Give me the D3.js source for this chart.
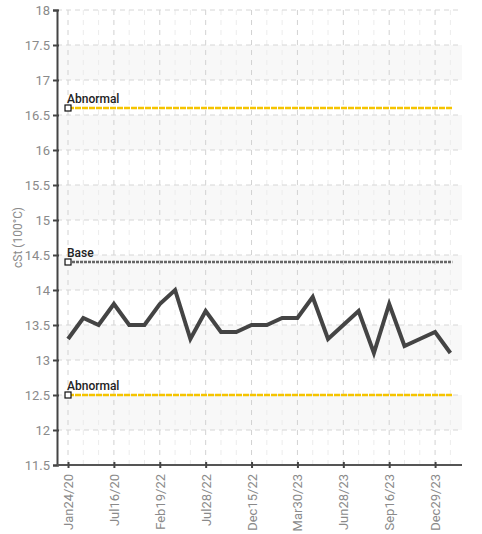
<!DOCTYPE html>
<html>
<head>
<meta charset="utf-8">
<script src="https://cdn.jsdelivr.net/npm/d3@7/dist/d3.min.js"></script>
<style>
  html, body { margin: 0; padding: 0; background: #fff; }
  svg { display: block; }
  text { font-family: "Roboto", "DejaVu Sans Condensed", sans-serif; }
</style>
</head>
<body>
<svg id="chart" width="482" height="534"></svg>
<script>
// Viscosity readings, one per sample (x = sample order)
const viscosity = [13.3, 13.6, 13.5, 13.8, 13.5, 13.5, 13.8, 14.0, 13.3, 13.7,
                   13.4, 13.4, 13.5, 13.5, 13.6, 13.6, 13.9, 13.3, 13.5, 13.7,
                   13.1, 13.8, 13.2, 13.3, 13.4, 13.1];
// Sample date labels shown on the axis (every third sample)
const tickLabels = ["Jan24/20", "Jul16/20", "Feb19/22", "Jul28/22", "Dec15/22",
                    "Mar30/23", "Jun28/23", "Sep16/23", "Dec29/23"];
const tickStep = 3;
// Limit lines
const limitNames = ["Abnormal", "Base", "Abnormal"];
const limitValues = [16.6, 14.4, 12.5];
const limitKinds = ["abnormal", "base", "abnormal"];
// Y axis ticks
const yTicks = [11.5, 12, 12.5, 13, 13.5, 14, 14.5, 15, 15.5, 16, 16.5, 17, 17.5, 18];

const svg = d3.select("#chart");
const plotLeft = 57, plotRight = 462, plotTop = 10, plotBottom = 465;

const x = d3.scaleLinear().domain([-0.72, viscosity.length - 1 + 0.76]).range([plotLeft, plotRight]);
const y = d3.scaleLinear().domain([11.5, 18]).range([plotBottom, plotTop]);

// Alternating shaded bands
const bands = d3.range(12, 18).map(k => [k, k + 0.5]);
svg.append("g").selectAll("rect").data(bands).join("rect")
  .attr("x", plotLeft).attr("width", plotRight - plotLeft)
  .attr("y", d => y(d[1])).attr("height", d => y(d[0]) - y(d[1]))
  .attr("fill", "#f8f8f8");

// Vertical grid at each sample
const idx = d3.range(viscosity.length);
svg.append("g").selectAll("line").data(idx).join("line")
  .attr("x1", d => x(d)).attr("x2", d => x(d))
  .attr("y1", plotTop).attr("y2", plotBottom)
  .attr("stroke", d => d % tickStep === 0 ? "#d2d2d2" : "#ececec")
  .attr("stroke-width", 1)
  .attr("stroke-dasharray", "5,5");

// Horizontal grid
svg.append("g").selectAll("line").data(yTicks.filter(v => v > 11.5)).join("line")
  .attr("x1", plotLeft).attr("x2", plotRight)
  .attr("y1", d => y(d)).attr("y2", d => y(d))
  .attr("stroke", "#d6d6d6").attr("stroke-width", 1)
  .attr("stroke-dasharray", "5,4");

// Y axis
const yAxis = d3.axisLeft(y).tickValues(yTicks).tickSize(4).tickPadding(3)
  .tickFormat(d3.format("~g"));
const gy = svg.append("g").attr("transform", `translate(${plotLeft},0)`).call(yAxis);
gy.select(".domain").attr("stroke", "#444").attr("stroke-width", 2);
gy.selectAll(".tick line").attr("stroke", "#444").attr("stroke-width", 2).attr("x2", 2).attr("x1", -4);
gy.selectAll(".tick text").attr("fill", "#8a8a8a").style("font-size", "13px");

// X axis
const tickIdx = tickLabels.map((_, i) => i * tickStep);
const xAxis = d3.axisBottom(x).tickValues(tickIdx).tickSize(4)
  .tickFormat((d, i) => tickLabels[i]);
const gx = svg.append("g").attr("transform", `translate(0,${plotBottom})`).call(xAxis);
gx.select(".domain").attr("stroke", "#555").attr("stroke-width", 2).attr("d", `M${plotLeft},0H${plotRight}`);
gx.selectAll(".tick line").attr("stroke", "#444").attr("stroke-width", 2).attr("y1", -3).attr("y2", 3);
gx.selectAll(".tick text")
  .attr("fill", "#8a8a8a").style("font-size", "13px")
  .attr("transform", "rotate(-90)")
  .attr("text-anchor", "end")
  .attr("x", -9).attr("y", 0).attr("dy", "0.35em");

// Y axis title
svg.append("text")
  .attr("transform", `translate(22,${(plotTop + plotBottom) / 2}) rotate(-90)`)
  .attr("text-anchor", "middle")
  .attr("fill", "#8a8a8a").style("font-size", "12px")
  .text("cSt (100°C)");

// Limit lines
const limits = limitValues.map((v, i) => ({ v, name: limitNames[i], kind: limitKinds[i] }));
const gl = svg.append("g");
gl.selectAll("line").data(limits).join("line")
  .attr("x1", x(0)).attr("x2", x(viscosity.length - 1) + 2)
  .attr("y1", d => y(d.v)).attr("y2", d => y(d.v))
  .attr("stroke", d => d.kind === "base" ? "#666" : "#f5c400")
  .attr("stroke-width", 2.5)
  .attr("stroke-dasharray", d => d.kind === "base" ? "3,1" : "6,1");
gl.selectAll("rect").data(limits).join("rect")
  .attr("x", x(0) - 3).attr("y", d => y(d.v) - 3)
  .attr("width", 6).attr("height", 6)
  .attr("fill", "#fff").attr("stroke", "#111").attr("stroke-width", 1.2);
gl.selectAll("text").data(limits).join("text")
  .attr("x", x(0) - 1).attr("y", d => y(d.v) - 5)
  .attr("fill", "#222").style("font-size", "12px").style("font-weight", "500")
  .text(d => d.name);

// Viscosity trend
const line = d3.line().x((d, i) => x(i)).y(d => y(d));
svg.append("path").datum(viscosity)
  .attr("d", line)
  .attr("fill", "none").attr("stroke", "#444")
  .attr("stroke-width", 4).attr("stroke-linejoin", "miter");
</script>
</body>
</html>
